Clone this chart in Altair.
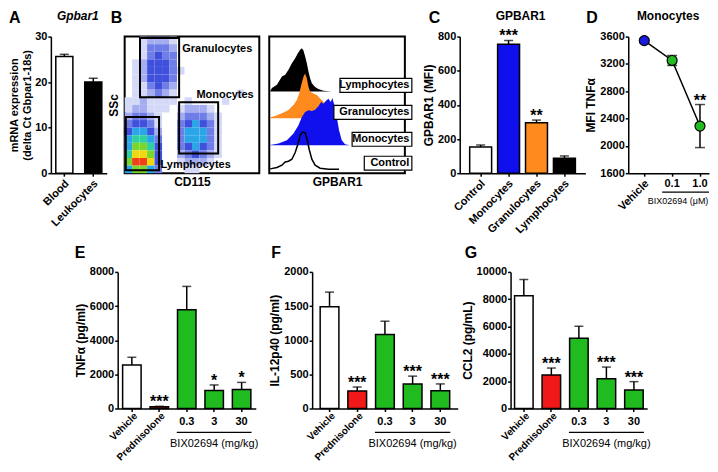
import altair as alt
import pandas as pd

FONT = "Liberation Sans"
H = 137

# ---------------- data ----------------
a_groups = ["Blood", "Leukocytes"]
a_means = [25.6, 20.0]
a_errs = [0.5, 0.85]
a_fill = ["#ffffff", "#000000"]

c_groups = ["Control", "Monocytes", "Granulocytes", "Lymphocytes"]
c_means = [153, 755, 295, 87]
c_errs = [12, 22, 16, 14]
c_fill = ["#ffffff", "#1010ee", "#ff8a1e", "#000000"]
c_stars = ["", "***", "**", ""]

d_groups = ["Vehicle", "0.1", "1.0"]
d_means = [3541, 3250, 2290]
d_errs = [30, 73, 315]
d_fill = ["#1a1ae0", "#22bb22", "#22bb22"]
d_stars = ["", "", "**"]

treatments = ["Vehicle", "Prednisolone", "0.3", "3", "30"]
treat_fill = ["#ffffff", "#f01818", "#1fbb1f", "#1fbb1f", "#1fbb1f"]
e_means = [2550, 100, 5780, 1050, 1120]
e_errs = [450, 30, 1370, 330, 410]
e_stars = ["", "***", "", "*", "*"]
f_means = [1491, 257, 1084, 358, 260]
f_errs = [213, 58, 194, 116, 100]
f_stars = ["", "***", "", "***", "***"]
g_means = [8250, 2452, 5145, 2184, 1359]
g_errs = [1190, 510, 875, 850, 607]
g_stars = ["", "***", "", "***", "***"]

# flow cytometry dot-plot density (rows top -> bottom, CD115 left -> right), level 0-9
flow_density = [
    "001222100000000000",
    "001333200000000000",
    "001343300000000000",
    "012444300000000000",
    "012444310000000000",
    "012444300000000000",
    "011343200000000000",
    "011232100000000100",
    "112111101000010000",
    "122111012221000000",
    "233210023332100000",
    "344310034543100000",
    "455420035553100000",
    "566530035553100000",
    "577640034543100000",
    "688740023432100000",
    "799840012221000000",
    "577530001100000000",
]
density_levels = [1, 2, 3, 4, 5, 6, 7, 8, 9]
density_colors = ["#d4d9f7", "#a3adf0", "#6f7de6", "#3f50dc", "#2aa6e8",
                  "#2fd0a0", "#7ad62a", "#f0d810", "#f04018"]

gate_names = ["Granulocytes", "Monocytes", "Lymphocytes"]
gate_x1 = [2.05, 7.28, 0.15]
gate_x2 = [7.28, 12.5, 4.6]
gate_y1 = [10.0, 2.6, 0.4]
gate_y2 = [17.8, 9.35, 7.4]
gate_label_x = [7.7, 9.6, 4.8]
gate_label_y = [16.3, 10.35, 1.1]

# GPBAR1 histograms
hist_pops = ["Lymphocytes", "Granulocytes", "Monocytes", "Control"]
hist_colors = ["#000000", "#ff8a1e", "#1010ee", "#000000"]
hist_offsets = [82, 55, 28, 4]
lym_x = [1, 2.7, 7.7, 12.7, 16, 19.3, 22.7, 26, 28.7, 31, 32.7, 34.3, 36, 37.7, 39.3, 41, 42.7, 46, 49.3, 54.3, 62.7]
lym_h = [0.3, 3.3, 6.7, 15, 16.7, 21.7, 28.3, 33.3, 38.3, 41.7, 43.3, 41, 35, 28.3, 20, 13.3, 8.3, 4.3, 2.3, 0.7, 0]
gran_x = [1, 6, 12.7, 19.3, 24.3, 27.7, 30, 32, 34.3, 36, 37.7, 39.3, 41, 44.3, 47.7, 51, 54.3, 59.3, 64.3, 69.3]
gran_h = [1, 2.3, 5, 8.3, 13.3, 18.3, 25, 33.3, 41.7, 45, 40, 31.7, 26.7, 25, 23.3, 20, 16.7, 8.3, 1, 0]
mono_x = [1, 9.3, 17.7, 24.3, 29.3, 32.7, 36, 39.3, 42.7, 46, 49.3, 52, 54.3, 56.7, 59.3, 61.7, 63.3, 65.3, 67.7, 70, 72.7, 76, 81]
mono_h = [0.3, 1.7, 5, 11.7, 20, 28.3, 33.3, 35, 34.3, 35.7, 39, 43.3, 41.7, 44.3, 46.7, 43.3, 47.3, 40, 28.3, 15, 5, 1, 0]
ctrl_x = [1, 7.7, 12.7, 16, 19.3, 22.7, 26, 28.7, 31, 33.3, 36, 38, 40, 42.7, 46, 51, 59.3, 70]
ctrl_h = [0.3, 1.7, 4, 7.3, 8, 10, 16.7, 25, 34, 37.3, 36.7, 30, 20, 10, 4, 1, 0, 0]

LET_Y = -27   # letter anchor (top baseline) relative to plot top
TITLE_Y = -21


# ---------------- helpers ----------------
def note(text, x, y, size=11, weight="bold", align="center", baseline="middle", style="normal"):
    return alt.Chart(pd.DataFrame({"t": [text]})).mark_text(
        font=FONT, fontSize=size, fontWeight=weight, fontStyle=style, align=align,
        baseline=baseline, color="black").encode(text="t:N", x=alt.value(x), y=alt.value(y))


def letter(ch, x):
    return note(ch, x, LET_Y, size=16, align="left", baseline="top")


def spacer(w):
    return alt.Chart(pd.DataFrame({"v": [0]})).mark_point(opacity=0).encode(
        x=alt.X("v:Q", axis=None), y=alt.Y("v:Q", axis=None)).properties(width=w, height=H)


def bar_panel(cats, means, errs, fills, stars, width, ymax, ystep, ytitle, pin, pout,
              rotated, doses=None, unit=None, extras=(), title_size=12, rot_size=11, rot_y=9, rot_dx=3):
    df = pd.DataFrame({"cat": cats, "mean": means, "err": errs, "fill": fills, "star": stars})
    base = alt.Chart(df).transform_calculate(top="datum.mean + datum.err")
    xenc = alt.X("cat:N", sort=cats, scale=alt.Scale(domain=cats, paddingInner=pin, paddingOuter=pout),
                 axis=alt.Axis(labels=False, title=None))
    ys = alt.Scale(domain=[0, ymax], nice=False)
    yax = alt.Axis(values=list(range(0, ymax + 1, ystep)), title=ytitle, format="d",
                   titleFontSize=title_size)
    bars = base.mark_bar(stroke="black", strokeWidth=1.5).encode(
        x=xenc, y=alt.Y("mean:Q", scale=ys, axis=yax), fill=alt.Fill("fill:N", scale=None))
    err = base.mark_rule(color="black", strokeWidth=1.5).encode(
        x=xenc, y=alt.Y("mean:Q", scale=ys, axis=yax), y2="top:Q")
    caps = base.mark_tick(color="black", thickness=1.5, size=9).encode(
        x=xenc, y=alt.Y("top:Q", scale=ys, axis=yax))
    st = base.mark_text(baseline="bottom", dy=4, font=FONT, fontSize=16, fontWeight="bold",
                        color="black").encode(x=xenc, y=alt.Y("top:Q", scale=ys, axis=yax), text="star:N")
    rot = base.transform_filter(alt.FieldOneOfPredicate(field="cat", oneOf=rotated)).mark_text(
        angle=315, align="right", baseline="middle", font=FONT, fontSize=rot_size, fontWeight="bold",
        color="black", xOffset=rot_dx).encode(x=xenc, y=alt.value(H + rot_y), text="cat:N")
    layers = [bars, err, caps, st, rot]
    if doses:
        dl = base.transform_filter(alt.FieldOneOfPredicate(field="cat", oneOf=doses)).mark_text(
            baseline="middle", font=FONT, fontSize=11, fontWeight="bold", color="black").encode(
            x=xenc, y=alt.value(H + 14), text="cat:N")
        ul = base.transform_filter(alt.datum.cat == doses[0]).transform_calculate(
            last="'" + doses[-1] + "'").mark_rule(color="black", strokeWidth=1.2, xOffset=-10, x2Offset=10).encode(
            x=xenc, x2="last:N", y=alt.value(H + 24))
        ut = base.transform_filter(alt.datum.cat == doses[1]).mark_text(
            text=unit, baseline="middle", font=FONT, fontSize=11, color="black").encode(
            x=xenc, y=alt.value(H + 36))
        layers += [dl, ul, ut]
    layers += list(extras)
    return alt.layer(*layers).properties(width=width, height=H)


# ---------------- panel A ----------------
panel_a = bar_panel(a_groups, a_means, a_errs, a_fill, ["", ""], 56, 30, 10,
                    ["mRNA expression", "(delta Ct Gbpar1-18s)"], 0.41, 0.17, a_groups,
                    extras=[letter("A", -42), note("Gpbar1", 27, TITLE_Y, size=12, style="italic")],
                    title_size=11)

# ---------------- panel B: dot plot ----------------
cells = []
nrow = len(flow_density)
for r, row in enumerate(flow_density):
    for c, ch in enumerate(row):
        if ch != "0":
            cells.append({"x": c, "x2": c + 1, "y": nrow - 1 - r, "y2": nrow - r, "level": int(ch)})
cells_df = pd.DataFrame(cells)
sx = alt.Scale(domain=[0, 18], nice=False)
sy = alt.Scale(domain=[0, 18], nice=False)
ax_cd = alt.Axis(labels=False, ticks=False, domain=False, title="CD115", titlePadding=3)
ax_ssc = alt.Axis(labels=False, ticks=False, domain=False, title="SSc", titlePadding=4)
dens = alt.Chart(cells_df).mark_rect().encode(
    x=alt.X("x:Q", scale=sx, axis=ax_cd), x2="x2:Q",
    y=alt.Y("y:Q", scale=sy, axis=ax_ssc), y2="y2:Q",
    color=alt.Color("level:O", scale=alt.Scale(domain=density_levels, range=density_colors), legend=None))
gates_df = pd.DataFrame({"name": gate_names, "x1": gate_x1, "x2": gate_x2, "y1": gate_y1, "y2": gate_y2,
                         "lx": gate_label_x, "ly": gate_label_y})
gates = alt.Chart(gates_df).mark_rect(fillOpacity=0, stroke="black", strokeWidth=2).encode(
    x=alt.X("x1:Q", scale=sx, axis=ax_cd), x2="x2:Q", y=alt.Y("y1:Q", scale=sy, axis=ax_ssc), y2="y2:Q")
gate_lab = alt.Chart(gates_df).mark_text(align="left", baseline="middle", font=FONT, fontSize=11,
                                         fontWeight="bold", color="black").encode(
    x=alt.X("lx:Q", scale=sx, axis=ax_cd), y=alt.Y("ly:Q", scale=sy, axis=ax_ssc), text="name:N")
panel_b1 = alt.layer(dens, gates, gate_lab, letter("B", -14)).properties(
    width=135, height=H, view=alt.ViewBackground(stroke="black", strokeWidth=2))

# ---------------- panel B: histograms ----------------
hx = alt.Scale(domain=[0, 136], nice=False)
hy = alt.Scale(domain=[0, 137], nice=False)
ax_g = alt.Axis(labels=False, ticks=False, domain=False, title="GPBAR1", titlePadding=3)


def hist_layer(xs, hs, off, color, filled):
    d = pd.DataFrame({"x": xs, "h": hs})
    ch = alt.Chart(d).transform_calculate(top="datum.h + " + str(off), bot=str(off))
    enc = dict(x=alt.X("x:Q", scale=hx, axis=ax_g), y=alt.Y("top:Q", scale=hy, axis=None))
    if filled:
        return ch.mark_area(color=color, interpolate="linear").encode(y2="bot:Q", **enc)
    return ch.mark_line(color=color, strokeWidth=1.5).encode(**enc)


hist_layers = [
    hist_layer(lym_x, lym_h, hist_offsets[0], hist_colors[0], True),
    hist_layer(gran_x, gran_h, hist_offsets[1], hist_colors[1], True),
    hist_layer(mono_x, mono_h, hist_offsets[2], hist_colors[2], True),
    hist_layer(ctrl_x, ctrl_h, hist_offsets[3], hist_colors[3], False),
]
lab_df = pd.DataFrame({"name": hist_pops, "off": hist_offsets})
lab = alt.Chart(lab_df).transform_calculate(
    xr="143", xl="143 - (length(datum.name) * 6.1 + 5)", xt="140.5",
    yb="datum.off - 1", yt="datum.off + 13", ym="datum.off + 6")
lab_box = lab.mark_rect(fill="white", stroke="black", strokeWidth=1.2).encode(
    x=alt.X("xl:Q", scale=hx, axis=ax_g), x2="xr:Q", y=alt.Y("yb:Q", scale=hy, axis=None), y2="yt:Q")
lab_txt = lab.mark_text(align="right", baseline="middle", font=FONT, fontSize=11, fontWeight="bold",
                        color="black").encode(
    x=alt.X("xt:Q", scale=hx, axis=ax_g), y=alt.Y("ym:Q", scale=hy, axis=None), text="name:N")
panel_b2 = alt.layer(*hist_layers, lab_box, lab_txt).properties(
    width=136, height=H, view=alt.ViewBackground(stroke="black", strokeWidth=2))

# ---------------- panel C ----------------
panel_c = bar_panel(c_groups, c_means, c_errs, c_fill, c_stars, 126, 800, 200, "GPBAR1 (MFI)",
                    0.214, 0.357, c_groups,
                    extras=[letter("C", -31), note("GPBAR1", 61, TITLE_Y, size=12)])

# ---------------- panel D ----------------
d_df = pd.DataFrame({"cat": d_groups, "mean": d_means, "err": d_errs, "fill": d_fill, "star": d_stars})
dbase = alt.Chart(d_df).transform_calculate(lo="datum.mean - datum.err", hi="datum.mean + datum.err")
dxe = alt.X("cat:N", sort=d_groups, scale=alt.Scale(type="point", domain=d_groups, padding=0.45, align=0.64),
            axis=alt.Axis(labels=False, title=None))
dys = alt.Scale(domain=[1600, 3600], nice=False, zero=False)
dax = alt.Axis(values=[1600, 2000, 2400, 2800, 3200, 3600], title="MFI TNFα", format="d")
d_line = dbase.mark_line(color="black", strokeWidth=1.5).encode(x=dxe, y=alt.Y("mean:Q", scale=dys, axis=dax))
d_err = dbase.mark_rule(color="black", strokeWidth=1.5).encode(
    x=dxe, y=alt.Y("lo:Q", scale=dys, axis=dax), y2="hi:Q")
d_cap_hi = dbase.mark_tick(color="black", thickness=1.5, size=10).encode(x=dxe, y=alt.Y("hi:Q", scale=dys, axis=dax))
d_cap_lo = dbase.mark_tick(color="black", thickness=1.5, size=10).encode(x=dxe, y=alt.Y("lo:Q", scale=dys, axis=dax))
d_pts = dbase.mark_point(filled=True, shape="circle", size=100, stroke="black", strokeWidth=1.2, opacity=1).encode(
    x=dxe, y=alt.Y("mean:Q", scale=dys, axis=dax), fill=alt.Fill("fill:N", scale=None))
d_st = dbase.mark_text(baseline="bottom", dy=4, font=FONT, fontSize=16, fontWeight="bold", color="black").encode(
    x=dxe, y=alt.Y("hi:Q", scale=dys, axis=dax), text="star:N")
d_rot = dbase.transform_filter(alt.datum.cat == "Vehicle").mark_text(
    angle=315, align="right", baseline="middle", font=FONT, fontSize=11, fontWeight="bold",
    color="black", xOffset=3).encode(x=dxe, y=alt.value(H + 9), text="cat:N")
d_dl = dbase.transform_filter(alt.datum.cat != "Vehicle").mark_text(
    baseline="middle", font=FONT, fontSize=11, fontWeight="bold", color="black").encode(
    x=dxe, y=alt.value(H + 11), text="cat:N")
d_ul = dbase.transform_filter(alt.datum.cat == "0.1").transform_calculate(last="'1.0'").mark_rule(
    color="black", strokeWidth=1.2, xOffset=-10, x2Offset=9).encode(x=dxe, x2="last:N", y=alt.value(H + 19))
d_ut = dbase.transform_filter(alt.datum.cat == "0.1").mark_text(
    text="BIX02694 (μM)", baseline="middle", font=FONT, fontSize=9, color="black", xOffset=6).encode(
    x=dxe, y=alt.value(H + 28))
panel_d = alt.layer(d_line, d_err, d_cap_hi, d_cap_lo, d_pts, d_st, d_rot, d_dl, d_ul, d_ut,
                    letter("D", -42), note("Monocytes", 40, TITLE_Y, size=12)).properties(width=81, height=H)

# ---------------- panels E, F, G ----------------
rot_t = ["Vehicle", "Prednisolone"]
dose_t = ["0.3", "3", "30"]
panel_e = bar_panel(treatments, e_means, e_errs, treat_fill, e_stars, 138.5, 8000, 2000, "TNFα (pg/ml)",
                    0.327, 0.18, rot_t, dose_t, "BIX02694 (mg/kg)", extras=[letter("E", -43)],
                    rot_size=10, rot_y=6, rot_dx=4)
panel_f = bar_panel(treatments, f_means, f_errs, treat_fill, f_stars, 146, 2000, 500, "IL-12p40 (pg/ml)",
                    0.324, 0.29, rot_t, dose_t, "BIX02694 (mg/kg)", extras=[letter("F", -41)],
                    rot_size=10, rot_y=6, rot_dx=4)
panel_g = bar_panel(treatments, g_means, g_errs, treat_fill, g_stars, 137, 10000, 2000, "CCL2 (pg/mL)",
                    0.327, 0.145, rot_t, dose_t, "BIX02694 (mg/kg)", extras=[letter("G", -46)],
                    rot_size=10, rot_y=6, rot_dx=4)

top = alt.hconcat(panel_a, spacer(18), panel_b1, spacer(10), panel_b2, spacer(55), panel_c, spacer(43),
                  panel_d, spacing=0, bounds="flush")
bottom = alt.hconcat(spacer(67), panel_e, spacer(55.5), panel_f, spacer(53), panel_g,
                     spacing=0, bounds="flush")

PAD = {"left": 0, "top": 0, "right": 0, "bottom": 0}
chart = alt.vconcat(top, bottom, spacing=236, bounds="flush").properties(padding=PAD).configure(
    font=FONT, padding=PAD).configure_view(stroke=None).configure_axis(
    grid=False, domainColor="black", domainWidth=1.5, tickColor="black", tickWidth=1.5, tickSize=3,
    labelColor="black", labelFont=FONT, labelFontSize=11, labelFontWeight="bold", labelPadding=1,
    titleColor="black", titleFont=FONT, titleFontSize=12, titleFontWeight="bold", titlePadding=2)

chart.save("out.html", embed_options={"renderer": "svg", "actions": False})
